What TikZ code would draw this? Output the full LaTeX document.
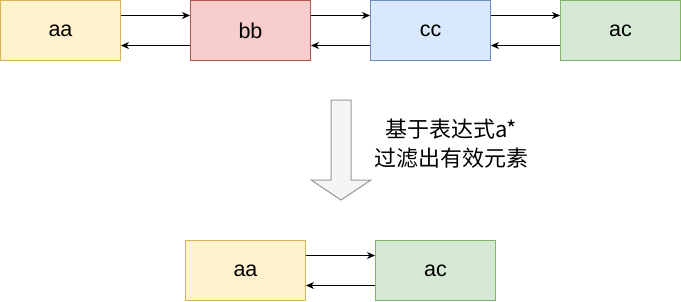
\documentclass[tikz,border=0pt]{standalone}
\usepackage{fontspec}
\setmainfont{Liberation Sans}
\newfontfamily\cjk{Noto Sans CJK SC}
\usetikzlibrary{arrows.meta}
\definecolor{yfill}{HTML}{FFF2CC}\definecolor{ydraw}{HTML}{D6B656}
\definecolor{rfill}{HTML}{F8CECC}\definecolor{rdraw}{HTML}{B85450}
\definecolor{bfill}{HTML}{DAE8FC}\definecolor{bdraw}{HTML}{6C8EBF}
\definecolor{gfill}{HTML}{D5E8D4}\definecolor{gdraw}{HTML}{82B366}
\definecolor{afill}{HTML}{F5F5F5}\definecolor{adraw}{HTML}{999999}
\tikzset{
  box/.style={draw, line width=1pt, minimum width=120pt, minimum height=60pt, inner sep=0pt, font=\fontsize{21.5}{26}\selectfont},
  yb/.style={box, fill=yfill, draw=ydraw},
  rb/.style={box, fill=rfill, draw=rdraw},
  bb/.style={box, fill=bfill, draw=bdraw},
  gb/.style={box, fill=gfill, draw=gdraw},
  link/.style={line width=1pt, -{Stealth[length=8pt,width=7pt,inset=2.5pt]}},
}
\begin{document}
\begin{tikzpicture}[x=1pt,y=-1pt]
\useasboundingbox (0,0) rectangle (681,301);
\node[yb] (aa) at (60.5,30.5) {aa};
\node[rb] (b) at (250.5,30.5) {bb};
\node[bb] (c) at (430.5,30.5) {cc};
\node[gb] (ac) at (620.5,30.5) {ac};
\node[yb] (aa2) at (245.5,270.5) {aa};
\node[gb] (ac2) at (435.5,270.5) {ac};
\foreach \p/\q in {aa/b, b/c, c/ac, aa2/ac2}{
  \draw[link] ([yshift=15pt]\p.east) -- ([yshift=15pt]\q.west);
  \draw[link] ([yshift=-15pt]\q.west) -- ([yshift=-15pt]\p.east);
}
\draw[fill=afill, draw=adraw, line width=1pt, line join=miter]
  (331,100) -- (351,100) -- (351,180) -- (371,180) -- (341,200) -- (311,180) -- (331,180) -- cycle;
\node[align=center, font=\cjk\fontsize{22}{29}\selectfont, inner sep=0pt] (t) at (451,144) {基于表达式a*\\过滤出有效元素};
\end{tikzpicture}
\end{document}
